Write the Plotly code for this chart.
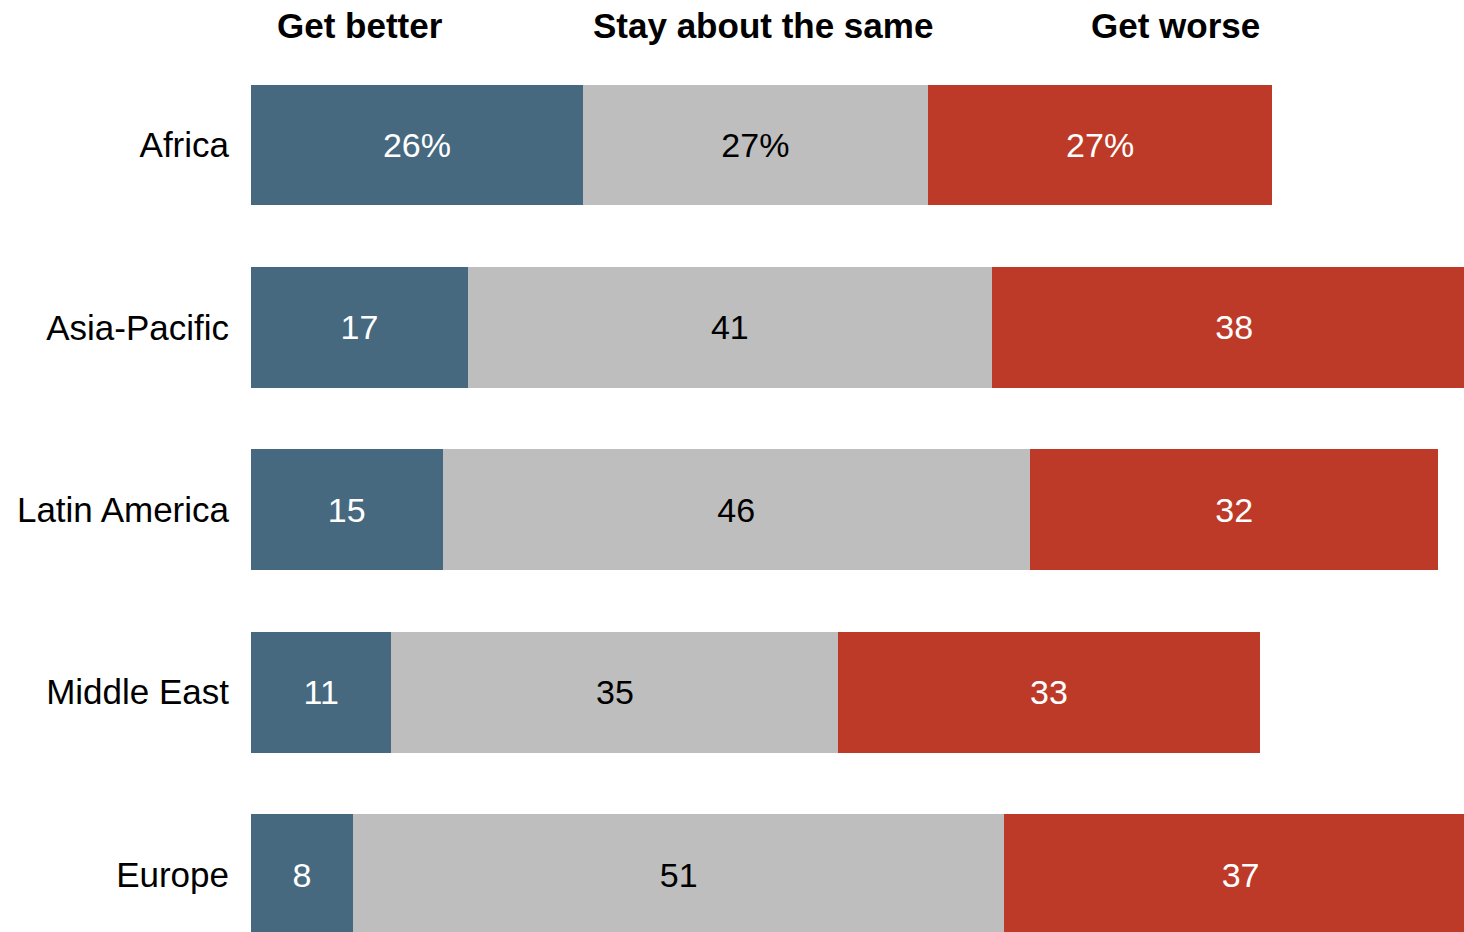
import plotly.graph_objects as go

regions = ["Africa", "Asia-Pacific", "Latin America", "Middle East", "Europe"]
better = [26, 17, 15, 11, 8]
same = [27, 41, 46, 35, 51]
worse = [27, 38, 32, 33, 37]
series_names = ["Get better", "Stay about the same", "Get worse"]
colors = ["#46697F", "#BEBEBE", "#BD3A28"]
text_colors = ["white", "black", "white"]

def labels(vals):
    return [f"{v}%" if i == 0 else f"{v}" for i, v in enumerate(vals)]

FONT = "Liberation Sans, Arial, sans-serif"

fig = go.Figure()
for name, vals, col, tcol in zip(series_names, [better, same, worse], colors, text_colors):
    fig.add_trace(go.Bar(
        y=regions, x=vals, name=name, orientation="h",
        marker=dict(color=col, line=dict(width=0)),
        width=0.663,
        text=labels(vals), textposition="inside", insidetextanchor="middle",
        textangle=0, constraintext="none",
        textfont=dict(family=FONT, size=34, color=tcol),
        hoverinfo="skip",
    ))

# column headers centred over typical segment positions
header_x = [8.5, 40.1, 72.4]
for name, hx in zip(series_names, header_x):
    fig.add_annotation(x=hx, y=-0.655, xref="x", yref="y", text=f"<b>{name}</b>",
                       showarrow=False, font=dict(family=FONT, size=35, color="black"),
                       xanchor="center", yanchor="middle")

fig.update_layout(
    barmode="stack",
    width=1464, height=932,
    margin=dict(l=251, r=0, t=0, b=0),
    paper_bgcolor="white", plot_bgcolor="white",
    showlegend=False,
    bargap=0,
)
fig.update_xaxes(range=[0, 95], visible=False, fixedrange=True)
fig.update_yaxes(range=[4.315, -0.795], showgrid=False, zeroline=False, showline=False,
                 ticks="", ticklabelstandoff=21, fixedrange=True,
                 tickfont=dict(family=FONT, size=35, color="black"))

fig.write_html("out.html",
               config={"displayModeBar": False, "staticPlot": True},
               post_script="document.body.style.margin='0';document.body.style.overflow='hidden';")
